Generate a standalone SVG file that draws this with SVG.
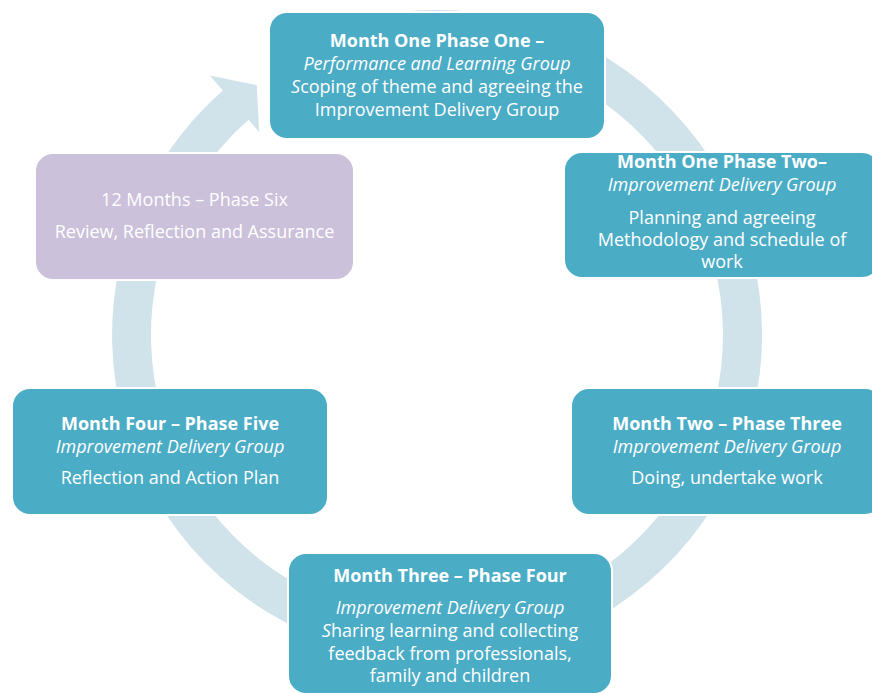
<svg xmlns="http://www.w3.org/2000/svg" width="872" height="694" viewBox="0 0 872 694">
  <style>
    .box { fill: #4bacc6; stroke: #ffffff; stroke-width: 2; }
    .box.review { fill: #ccc1da; }
    .ring { fill: #d0e2ea; }
    text { font-family: "Open Sans", "Noto Sans", "Liberation Sans", sans-serif; font-size: 18px; fill: #ffffff; text-anchor: middle; }
    .b { font-weight: 700; }
    .i { font-style: italic; }
  </style>
  <rect width="872" height="694" fill="#ffffff"/>

  <!-- cycle ring: clockwise band ending in an arrowhead before phase one -->
  <g id="connectors">
    <path class="ring" d="M 299.7 40.4 A 325 325 0 1 1 222.9 90.5 L 209.7 75.4 L 256.8 85.2 L 259.1 131.9 L 248.6 119.8 A 286 286 0 1 0 316.1 75.8 Z"/>
  </g>

  <g id="phase-one">
    <rect class="box" x="269" y="12" width="336" height="127" rx="18"/>
    <text x="437" y="47" class="b">Month One Phase One –</text>
    <text x="437" y="70" class="i">Performance and Learning Group</text>
    <text x="437" y="93"><tspan class="i">S</tspan>coping of theme and agreeing the</text>
    <text x="437" y="116">Improvement Delivery Group</text>
  </g>

  <g id="phase-two">
    <rect class="box" x="564" y="152" width="316" height="126" rx="18"/>
    <text x="722" y="168" class="b">Month One Phase Two–</text>
    <text x="722" y="191" class="i">Improvement Delivery Group</text>
    <text x="722" y="224">Planning and agreeing</text>
    <text x="722" y="246">Methodology and schedule of</text>
    <text x="722" y="268">work</text>
  </g>

  <g id="phase-three">
    <rect class="box" x="571" y="388" width="312" height="127" rx="18"/>
    <text x="727" y="430" class="b">Month Two – Phase Three</text>
    <text x="727" y="453" class="i">Improvement Delivery Group</text>
    <text x="727" y="484">Doing, undertake work</text>
  </g>

  <g id="phase-four">
    <rect class="box" x="288" y="553" width="324" height="141" rx="18"/>
    <text x="450" y="582" class="b">Month Three – Phase Four</text>
    <text x="450" y="614" class="i">Improvement Delivery Group</text>
    <text x="450" y="637"><tspan class="i">S</tspan>haring learning and collecting</text>
    <text x="450" y="660">feedback from professionals,</text>
    <text x="450" y="682">family and children</text>
  </g>

  <g id="phase-five">
    <rect class="box" x="12" y="388" width="316" height="127" rx="18"/>
    <text x="170" y="430" class="b">Month Four – Phase Five</text>
    <text x="170" y="453" class="i">Improvement Delivery Group</text>
    <text x="170" y="484">Reflection and Action Plan</text>
  </g>

  <g id="phase-six">
    <rect class="box review" x="35" y="153" width="319" height="127" rx="18"/>
    <text x="194.5" y="206">12 Months – Phase Six</text>
    <text x="194.5" y="238">Review, Reflection and Assurance</text>
  </g>
</svg>
